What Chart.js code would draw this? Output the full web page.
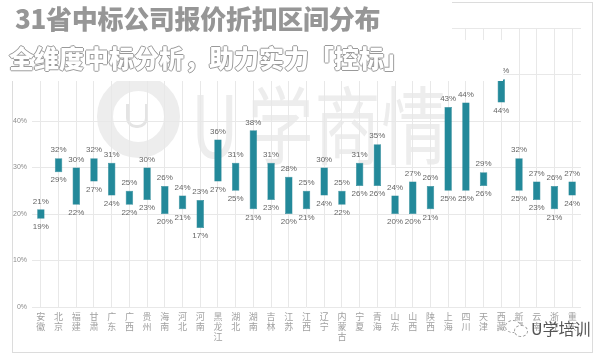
<!DOCTYPE html>
<html>
<head>
<meta charset="utf-8">
<script src="https://cdn.jsdelivr.net/npm/chart.js@4"></script>
<style>
  html, body { margin:0; padding:0; background:#fff; }
  #wrap { position:relative; width:603px; height:363px; overflow:hidden; background:#fff; font-family:"Noto Sans CJK SC","Noto Sans",sans-serif; }
  #frame { position:absolute; left:12px; top:2px; width:579px; height:349px; border:1px solid #dcdcdc; }
  #wm { position:absolute; left:191px; top:77px; font-size:66px; line-height:66px; color:#ededed; font-family:"Noto Sans CJK SC",sans-serif; white-space:nowrap; transform:scaleY(1.3); transform-origin:0 0; letter-spacing:1px; }
  #wm span { margin-right:8px; }
  #ring { position:absolute; left:97px; top:75px; width:51px; height:51px; border:16px solid #ededed; border-radius:50%; }
  #ringU { position:absolute; left:126px; top:104px; width:16px; height:21px; border:3px solid #e4e4e4; border-top:none; border-radius:0 0 10px 10px; }
  canvas { position:absolute; left:0; top:0; }
  #box1 { position:absolute; left:0; top:0; width:452px; height:40px; background:#fff; }
  #box2 { position:absolute; left:0; top:40px; width:503px; height:41px; background:#fff; }
  #t1 { position:absolute; left:15px; top:1px; font-size:26px; font-weight:900; color:#969696; line-height:34px; white-space:nowrap; letter-spacing:-0.3px; }
  #t2 { position:absolute; left:9px; top:40px; font-size:25px; font-weight:900; color:#fff; line-height:34px; white-space:nowrap;
        text-shadow: 1px 0 0 #9a9a9a, -1px 0 0 #9a9a9a, 0 1px 0 #9a9a9a, 0 -1px 0 #9a9a9a; }
  #brand { position:absolute; left:531px; top:316px; font-size:16px; color:#555; white-space:nowrap; }
  #ic1 { position:absolute; left:505px; top:320px; width:14px; height:11px; border:1px dashed #999; border-radius:50%; background:#fff; }
  #ic2 { position:absolute; left:514px; top:325px; width:12px; height:10px; border:1px dashed #999; border-radius:50%; background:#fff; }
</style>
</head>
<body>
<div id="wrap">
  <div id="frame"></div>
  <div id="ring"></div>
  <div id="ringU"></div>
  <div id="wm"><span>U</span>学商情</div>
  <canvas id="c" width="603" height="363"></canvas>
  <div id="box1"></div>
  <div id="box2"></div>
  <div id="t1">31省中标公司报价折扣区间分布</div>
  <div id="t2">全维度中标分析，助力实力「控标」</div>
  <div id="ic1"></div><div id="ic2"></div>
  <div id="brand">U学培训</div>
</div>
<script>
const provinces = ["安徽","北京","福建","甘肃","广东","广西","贵州","海南","河北","河南","黑龙江","湖北","湖南","吉林","江苏","江西","辽宁","内蒙古","宁夏","青海","山东","山西","陕西","上海","四川","天津","西藏","新疆","云南","浙江","重庆"];
const lowValues  = [19,29,22,27,24,22,23,20,21,17,27,25,21,23,20,21,24,22,26,26,20,20,21,25,25,26,44,25,23,21,24];
const highValues = [21,32,30,32,31,25,30,26,24,23,36,31,38,31,28,25,30,25,31,35,24,27,26,43,44,29,49,32,27,26,27];
const yTicks = [0,10,20,30,40,50,60];

const tickLabels = provinces.map(p => p.split(""));
const ranges = provinces.map((p,i) => [lowValues[i], highValues[i]]);

const labelPlugin = {
  id: 'rangeLabels',
  afterDatasetsDraw(chart) {
    const ctx = chart.ctx;
    const meta = chart.getDatasetMeta(0);
    ctx.save();
    ctx.font = '8px "Liberation Sans", "DejaVu Sans", sans-serif';
    ctx.fillStyle = '#666666';
    ctx.textAlign = 'center';
    ctx.textBaseline = 'middle';
    meta.data.forEach((el, i) => {
      const top = Math.min(el.y, el.base);
      const bot = Math.max(el.y, el.base);
      ctx.fillText(highValues[i] + '%', el.x, top - 8);
      ctx.fillText(lowValues[i] + '%', el.x, bot + 8);
    });
    ctx.restore();
  }
};

new Chart(document.getElementById('c'), {
  type: 'bar',
  data: {
    labels: tickLabels,
    datasets: [{
      data: ranges,
      backgroundColor: '#23899a',
      borderColor: '#1d7d8c',
      borderWidth: 0.5,
      borderSkipped: false,
      categoryPercentage: 1,
      barPercentage: 0.42
    }]
  },
  options: {
    responsive: false,
    animation: false,
    devicePixelRatio: 1,
    layout: { padding: { left: 12, right: 22, top: 28, bottom: 0 } },
    plugins: { legend: { display: false }, tooltip: { enabled: false } },
    scales: {
      x: {
        offset: true,
        grid: { offset: false, color: '#e8e8e8', drawTicks: false },
        border: { display: false },
        ticks: {
          autoSkip: false, maxRotation: 0, minRotation: 0, padding: 4,
          color: '#a0a0a0',
          font: { size: 9, family: '"Noto Sans CJK SC", sans-serif', lineHeight: 1.15 }
        },
        afterFit(s) { s.height = 56; }
      },
      y: {
        min: 0, max: 60,
        afterBuildTicks(s) { s.ticks = yTicks.map(v => ({ value: v })); },
        grid: { color: '#e8e8e8', drawTicks: false },
        border: { display: false },
        ticks: {
          padding: 5, color: '#8c8c8c',
          font: { size: 7, family: '"Liberation Sans", sans-serif' },
          callback: v => v + '%'
        },
        afterFit(s) { s.width = 20; }
      }
    }
  },
  plugins: [labelPlugin]
});
</script>
</body>
</html>
